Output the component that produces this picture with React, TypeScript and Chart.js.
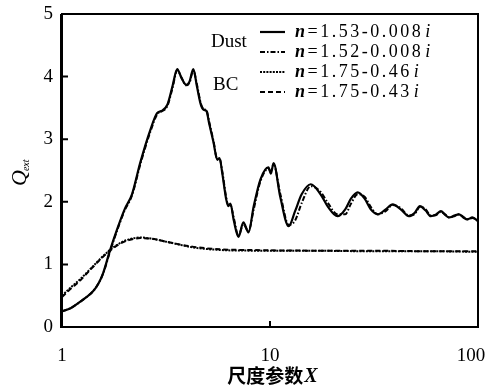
import { useEffect, useRef } from 'react';
import { Chart, registerables } from 'chart.js';

Chart.register(...registerables);

// ---- data ----
const xTickValues = [1, 10, 100];
const xTickLabels = ['1', '10', '100   '];
const yTickValues = [0, 1, 2, 3, 4, 5];
const xTitleMain = '尺度参数';
const xTitleVar = 'X';
const yTitleMain = 'Q';
const yTitleSub = 'ext';
const groupNames = ['Dust', 'BC'];
const legendLabels = [
  ['n', '=1.53-0.008', 'i'],
  ['n', '=1.52-0.008', 'i'],
  ['n', '=1.75-0.46', 'i'],
  ['n', '=1.75-0.43', 'i'],
];

// Dust, n = 1.53 - 0.008i  [X, Qext]
const dust153: [number, number][] = [
  [1, 0.25], [1.1, 0.3], [1.22, 0.4], [1.3, 0.47], [1.41, 0.57], [1.5, 0.7], [1.58, 0.87],
  [1.7, 1.22], [1.84, 1.56], [2.0, 1.88], [2.17, 2.12], [2.38, 2.63], [2.66, 3.15],
  [2.87, 3.42], [3.0, 3.45], [3.21, 3.55], [3.4, 3.85], [3.58, 4.12], [3.75, 3.98],
  [3.95, 3.87], [4.1, 3.92], [4.28, 4.12], [4.45, 3.85], [4.65, 3.55], [4.8, 3.47],
  [4.95, 3.45], [5.1, 3.25], [5.35, 2.95], [5.58, 2.67], [5.72, 2.7], [5.9, 2.45],
  [6.15, 2.05], [6.3, 1.93], [6.45, 1.97], [6.7, 1.7], [7.05, 1.44], [7.45, 1.67],
  [7.88, 1.51], [8.35, 1.93], [9.0, 2.36], [9.83, 2.55], [10.1, 2.45], [10.4, 2.62],
  [11.2, 2.08], [12.3, 1.61], [13.2, 1.85], [14.2, 2.12], [15.7, 2.28], [17.5, 2.12],
  [19, 1.92], [21.1, 1.77], [23, 1.88], [24.5, 2.05], [26.4, 2.15], [28.5, 2.05],
  [30.5, 1.88], [33, 1.8], [36, 1.88], [38.9, 1.96], [42.5, 1.88], [46.5, 1.77],
  [49.5, 1.82], [52.6, 1.93], [56, 1.86], [59.3, 1.77], [63, 1.8], [66.3, 1.85],
  [69.5, 1.79], [72.5, 1.75], [77, 1.78], [81, 1.8], [85, 1.75], [89, 1.72],
  [94, 1.75], [100, 1.69],
];

// Dust, n = 1.52 - 0.008i
const dust152: [number, number][] = [
  [1, 0.25], [1.1, 0.3], [1.22, 0.4], [1.3, 0.47], [1.41, 0.57], [1.5, 0.7], [1.58, 0.86],
  [1.7, 1.2], [1.84, 1.54], [2.0, 1.86], [2.17, 2.1], [2.38, 2.6], [2.66, 3.12],
  [2.87, 3.4], [3.0, 3.44], [3.21, 3.53], [3.4, 3.82], [3.58, 4.1], [3.75, 3.99],
  [3.95, 3.86], [4.1, 3.9], [4.28, 4.1], [4.45, 3.88], [4.65, 3.57], [4.8, 3.48],
  [4.95, 3.46], [5.1, 3.28], [5.35, 2.97], [5.58, 2.68], [5.72, 2.69], [5.9, 2.48],
  [6.15, 2.08], [6.3, 1.95], [6.45, 1.95], [6.7, 1.74], [7.05, 1.46], [7.45, 1.64],
  [7.88, 1.53], [8.35, 1.88], [9.0, 2.33], [9.83, 2.53], [10.1, 2.48], [10.4, 2.6],
  [11.2, 2.13], [12.3, 1.63], [13.2, 1.7], [14.2, 1.98], [15.7, 2.25], [17.5, 2.16],
  [19, 1.98], [21.1, 1.8], [23, 1.8], [24.5, 1.97], [26.4, 2.12], [28.5, 2.08],
  [30.5, 1.92], [33, 1.8], [36, 1.85], [38.9, 1.95], [42.5, 1.9], [46.5, 1.78],
  [49.5, 1.8], [52.6, 1.92], [56, 1.88], [59.3, 1.78], [63, 1.79], [66.3, 1.84],
  [69.5, 1.8], [72.5, 1.75], [77, 1.77], [81, 1.8], [85, 1.76], [89, 1.72],
  [94, 1.74], [100, 1.7],
];

// BC, n = 1.75 - 0.46i
const bc046: [number, number][] = [
  [1, 0.5], [1.1, 0.63], [1.22, 0.76], [1.4, 0.96], [1.55, 1.11], [1.7, 1.23],
  [1.9, 1.34], [2.1, 1.4], [2.38, 1.43], [2.7, 1.41], [3.3, 1.35], [4.3, 1.27],
  [5.8, 1.23], [8, 1.22], [15, 1.22], [30, 1.21], [60, 1.21], [100, 1.2],
];

// BC, n = 1.75 - 0.43i
const bc043: [number, number][] = [
  [1, 0.48], [1.1, 0.61], [1.22, 0.74], [1.4, 0.95], [1.55, 1.1], [1.7, 1.22],
  [1.9, 1.33], [2.1, 1.39], [2.38, 1.42], [2.7, 1.41], [3.3, 1.35], [4.3, 1.28],
  [5.8, 1.24], [8, 1.23], [15, 1.22], [30, 1.22], [60, 1.21], [100, 1.21],
];

const seriesList = [dust153, dust152, bc046, bc043];
const seriesDash: number[][] = [[], [5, 2, 1.5, 2], [2, 1.2], [5, 3]];
const seriesWidth = [2.2, 2, 2, 2];

const SERIF = '"Liberation Serif", "Times New Roman", serif';
const CJK = '"Noto Sans CJK SC", sans-serif';

const decorPlugin = {
  id: 'decor',
  afterDraw(chart: any) {
    const ctx: CanvasRenderingContext2D = chart.ctx;
    const { left, right, top, bottom } = chart.chartArea;
    const xs = chart.scales.x;
    const ys = chart.scales.y;
    ctx.save();
    ctx.strokeStyle = '#000';
    ctx.fillStyle = '#000';
    // frame
    ctx.lineWidth = 2;
    ctx.strokeRect(left, top, right - left, bottom - top);
    ctx.lineWidth = 3;
    ctx.beginPath();
    ctx.moveTo(left - 0.5, top);
    ctx.lineTo(left - 0.5, bottom + 1);
    ctx.stroke();
    // inner ticks
    ctx.lineWidth = 2;
    ctx.beginPath();
    yTickValues.forEach((v) => {
      const py = ys.getPixelForValue(v);
      ctx.moveTo(left, py);
      ctx.lineTo(left + 6, py);
    });
    xTickValues.forEach((v) => {
      const px = xs.getPixelForValue(v);
      ctx.moveTo(px, bottom);
      ctx.lineTo(px, bottom - 6);
    });
    ctx.stroke();

    // legend
    const rowY = [32, 52, 72, 92];
    const lineX0 = 260;
    const lineX1 = 285;
    const textX = 295;
    ctx.textBaseline = 'middle';
    rowY.forEach((y, i) => {
      ctx.lineWidth = seriesWidth[i];
      ctx.setLineDash(seriesDash[i]);
      ctx.beginPath();
      ctx.moveTo(lineX0, y);
      ctx.lineTo(lineX1, y);
      ctx.stroke();
      ctx.setLineDash([]);
      const [a, b, c] = legendLabels[i];
      (ctx as any).letterSpacing = '2.5px';
      let x = textX;
      ctx.font = `italic bold 18px ${SERIF}`;
      ctx.fillText(a, x, y);
      x += ctx.measureText(a).width;
      ctx.font = `18px ${SERIF}`;
      ctx.fillText(b, x, y);
      x += ctx.measureText(b).width + 2;
      ctx.font = `italic 18px ${SERIF}`;
      ctx.fillText(c, x, y);
      (ctx as any).letterSpacing = '0px';
    });
    ctx.font = `19px ${SERIF}`;
    ctx.textAlign = 'left';
    ctx.fillText(groupNames[0], 211, 42);
    ctx.fillText(groupNames[1], 213, 85);

    // x title
    ctx.textBaseline = 'middle';
    ctx.font = `bold 19px ${CJK}`;
    const w1 = ctx.measureText(xTitleMain).width;
    ctx.font = `italic bold 20px ${SERIF}`;
    const w2 = ctx.measureText(xTitleVar).width;
    const sx = 272 - (w1 + w2) / 2;
    ctx.font = `bold 19px ${CJK}`;
    ctx.fillText(xTitleMain, sx, 376);
    ctx.font = `italic bold 20px ${SERIF}`;
    ctx.fillText(xTitleVar, sx + w1 + 1, 377);

    // y title
    ctx.translate(26, 186);
    ctx.rotate(-Math.PI / 2);
    ctx.textBaseline = 'alphabetic';
    ctx.font = `italic 22px ${SERIF}`;
    ctx.fillText(yTitleMain, 0, 0);
    const qw = ctx.measureText(yTitleMain).width;
    ctx.font = `italic 10px ${SERIF}`;
    ctx.fillText(yTitleSub, qw - 1, 3);
    ctx.restore();
  },
};

export default function App() {
  const ref = useRef<HTMLCanvasElement>(null);
  useEffect(() => {
    const chart = new Chart(ref.current as HTMLCanvasElement, {
      type: 'line',
      data: {
        datasets: seriesList.map((s, i) => ({
          label: legendLabels[i].join(''),
          data: s.map(([x, y]) => ({ x, y })),
          borderColor: '#000',
          borderWidth: seriesWidth[i],
          borderDash: seriesDash[i],
          pointRadius: 0,
          fill: false,
          cubicInterpolationMode: 'monotone' as const,
        })),
      },
      options: {
        responsive: false,
        animation: false,
        devicePixelRatio: 1,
        layout: { padding: { top: 14, right: 12, left: 0, bottom: 0 } },
        plugins: { legend: { display: false }, tooltip: { enabled: false } },
        scales: {
          x: {
            type: 'logarithmic',
            min: 1,
            max: 100,
            afterBuildTicks: (scale: any) => {
              scale.ticks = xTickValues.map((v) => ({ value: v }));
            },
            afterFit: (scale: any) => {
              scale.height = 63;
              scale.paddingLeft = 0;
              scale.paddingRight = 0;
            },
            ticks: {
              autoSkip: false,
              maxRotation: 0,
              color: '#000',
              padding: 18,
              font: { family: SERIF, size: 19 },
              callback: (v: any) => {
                const idx = xTickValues.indexOf(Number(v));
                return idx >= 0 ? xTickLabels[idx] : '';
              },
            },
            grid: { display: false, drawTicks: false },
            border: { display: false },
          },
          y: {
            type: 'linear',
            min: 0,
            max: 5,
            afterBuildTicks: (scale: any) => {
              scale.ticks = yTickValues.map((v) => ({ value: v }));
            },
            afterFit: (scale: any) => {
              scale.width = 62;
              scale.paddingTop = 0;
              scale.paddingBottom = 0;
            },
            ticks: {
              color: '#000',
              padding: 9,
              font: { family: SERIF, size: 19 },
              callback: (v: any) => String(v),
            },
            grid: { display: false, drawTicks: false },
            border: { display: false },
          },
        },
      } as any,
      plugins: [decorPlugin],
    });
    return () => chart.destroy();
  }, []);
  return (
    <div style={{ position: 'absolute', left: 0, top: 0, width: 490, height: 390, background: '#fff' }}>
      <canvas ref={ref} width={490} height={390} style={{ display: 'block', width: 490, height: 390 }} />
    </div>
  );
}
